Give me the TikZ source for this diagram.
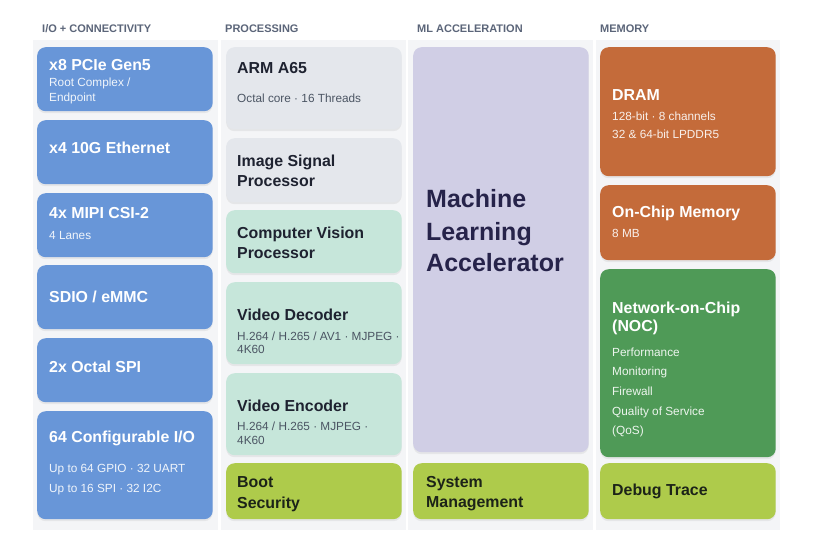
\documentclass[tikz,border=0pt]{standalone}
\usepackage{fontspec}
\setmainfont{Liberation Sans}
\usetikzlibrary{shadows}
\definecolor{ioblue}{HTML}{6896D8}
\definecolor{procgray}{HTML}{E4E7EC}
\definecolor{cvmint}{HTML}{C6E6DA}
\definecolor{mlpurple}{HTML}{D0CEE5}
\definecolor{lime}{HTML}{AECB4B}
\definecolor{memorange}{HTML}{C46B3A}
\definecolor{nocgreen}{HTML}{4F9A57}
\definecolor{panel}{HTML}{F4F5F7}
\definecolor{hdrgray}{HTML}{5B6579}
\definecolor{ink}{HTML}{1E2230}
\definecolor{mlink}{HTML}{26234A}
\definecolor{limeink}{HTML}{1C2318}
\definecolor{subgray}{HTML}{4B5563}
\begin{document}
\begin{tikzpicture}[x=1pt,y=-1pt,
	blk/.style={rounded corners=8.5pt, minimum width=175.5pt, anchor=north west,
		inner sep=0pt, drop shadow={opacity=.12, shadow xshift=0pt, shadow yshift=-2pt}},
	ttl/.style={anchor=base west, inner sep=0pt, font=\bfseries\fontsize{15.9}{18}\selectfont},
	sub/.style={anchor=base west, inner sep=0pt, font=\fontsize{11.8}{14}\selectfont},
	hdr/.style={anchor=base west, inner sep=0pt, text=hdrgray, font=\bfseries\fontsize{11}{13}\selectfont}]

	\useasboundingbox[fill=white] (0,0) rectangle (824,542);

	\fill[panel] (33,40) rectangle (218,530); \fill[panel] (221,40) rectangle (406,530);
	\fill[panel] (408,40) rectangle (593,530); \fill[panel] (596,40) rectangle (780,530);

	\node[hdr] (hio) at (42,32.7) {I/O + CONNECTIVITY};
	\node[hdr] (hproc) at (225,32.7) {PROCESSING};
	\node[hdr] (hml) at (417,32.7) {ML ACCELERATION};
	\node[hdr] (hmem) at (600,32.7) {MEMORY};

	\node[blk, fill=ioblue, minimum height=64pt] (pcie) at (37,47) {};
	\node[blk, fill=ioblue, minimum height=64pt] (eth) at (37,120) {};
	\node[blk, fill=ioblue, minimum height=64pt] (mipi) at (37,193) {};
	\node[blk, fill=ioblue, minimum height=64pt] (sdio) at (37,265) {};
	\node[blk, fill=ioblue, minimum height=64pt] (spi) at (37,338) {};
	\node[blk, fill=ioblue, minimum height=108pt] (gpio) at (37,411) {};

	\node[ttl, white] (pcieT) at (49,70) {x8 PCIe Gen5};
	\node[sub, white!90!ioblue] (pcieA) at (49,86.7) {Root Complex /};
	\node[sub, white!90!ioblue] (pcieB) at (49,101.7) {Endpoint};
	\node[ttl, white] (ethT) at (49,153.3) {x4 10G Ethernet};
	\node[ttl, white] (mipiT) at (49,218.3) {4x MIPI CSI-2};
	\node[sub, white!90!ioblue] (mipiA) at (49,239.3) {4 Lanes};
	\node[ttl, white] (sdioT) at (49,302.7) {SDIO / eMMC};
	\node[ttl, white] (spiT) at (49,372.3) {2x Octal SPI};
	\node[ttl, white] (gpioT) at (49,442) {64 Configurable I/O};
	\node[sub, white!90!ioblue] (gpioA) at (49,472.7) {Up to 64 GPIO · 32 UART};
	\node[sub, white!90!ioblue] (gpioB) at (49,492.3) {Up to 16 SPI · 32 I2C};

	\node[blk, fill=procgray, minimum height=82pt] (arm) at (226,47) {};
	\node[blk, fill=procgray, minimum height=64pt] (isp) at (226,138) {};
	\node[blk, fill=cvmint, minimum height=63pt] (cvp) at (226,210) {};
	\node[blk, fill=cvmint, minimum height=82pt] (dec) at (226,282) {};
	\node[blk, fill=cvmint, minimum height=82pt] (enc) at (226,373) {};
	\node[blk, fill=lime, minimum height=56pt] (boot) at (226,463) {};

	\node[ttl, ink] (armT) at (237,73.3) {ARM A65};
	\node[sub, subgray] (armA) at (237,102.3) {Octal core · 16 Threads};
	\node[ttl, ink] (ispT) at (237,166.7) {Image Signal};
	\node[ttl, ink] (ispB) at (237,186) {Processor};
	\node[ttl, ink] (cvpT) at (237,238.3) {Computer Vision};
	\node[ttl, ink] (cvpB) at (237,258.3) {Processor};
	\node[ttl, ink] (decT) at (237,320) {Video Decoder};
	\node[sub, subgray] (decA) at (237,340) {H.264 / H.265 / AV1 · MJPEG ·};
	\node[sub, subgray] (decB) at (237,353.3) {4K60};
	\node[ttl, ink] (encT) at (237,411) {Video Encoder};
	\node[sub, subgray] (encA) at (237,430.7) {H.264 / H.265 · MJPEG ·};
	\node[sub, subgray] (encB) at (237,444.3) {4K60};
	\node[ttl, limeink] (bootT) at (237,487.7) {Boot};
	\node[ttl, limeink] (bootB) at (237,508.3) {Security};

	\node[blk, fill=mlpurple, minimum height=405pt] (mla) at (413,47) {};
	\node[blk, fill=lime, minimum height=56pt] (sys) at (413,463) {};

	\node[ttl, mlink, font=\bfseries\fontsize{25}{30}\selectfont] (mlA) at (426,207.7) {Machine};
	\node[ttl, mlink, font=\bfseries\fontsize{25}{30}\selectfont] (mlB) at (426,240) {Learning};
	\node[ttl, mlink, font=\bfseries\fontsize{25}{30}\selectfont] (mlC) at (426,271.7) {Accelerator};
	\node[ttl, limeink] (sysT) at (426,487.7) {System};
	\node[ttl, limeink] (sysB) at (426,507.7) {Management};

	\node[blk, fill=memorange, minimum height=129pt] (dram) at (600,47) {};
	\node[blk, fill=memorange, minimum height=75pt] (ocm) at (600,185) {};
	\node[blk, fill=nocgreen, minimum height=188pt] (noc) at (600,269) {};
	\node[blk, fill=lime, minimum height=56pt] (dbg) at (600,463) {};

	\node[ttl, white] (dramT) at (612,100) {DRAM};
	\node[sub, white!90!memorange] (dramA) at (612,120) {128-bit · 8 channels};
	\node[sub, white!90!memorange] (dramB) at (612,138.7) {32 \& 64-bit LPDDR5};
	\node[ttl, white] (ocmT) at (612,217.7) {On-Chip Memory};
	\node[sub, white!90!memorange] (ocmA) at (612,237.3) {8 MB};
	\node[ttl, white] (nocT) at (612,313.3) {Network-on-Chip};
	\node[ttl, white] (nocB) at (612,331.7) {(NOC)};
	\node[sub, white!90!nocgreen] (nocA) at (612,356.7) {Performance};
	\node[sub, white!90!nocgreen] (nocC) at (612,375.7) {Monitoring};
	\node[sub, white!90!nocgreen] (nocD) at (612,395.7) {Firewall};
	\node[sub, white!90!nocgreen] (nocE) at (612,415) {Quality of Service};
	\node[sub, white!90!nocgreen] (nocF) at (612,434) {(QoS)};
	\node[ttl, limeink] (dbgT) at (612,495) {Debug Trace};
\end{tikzpicture}
\end{document}
